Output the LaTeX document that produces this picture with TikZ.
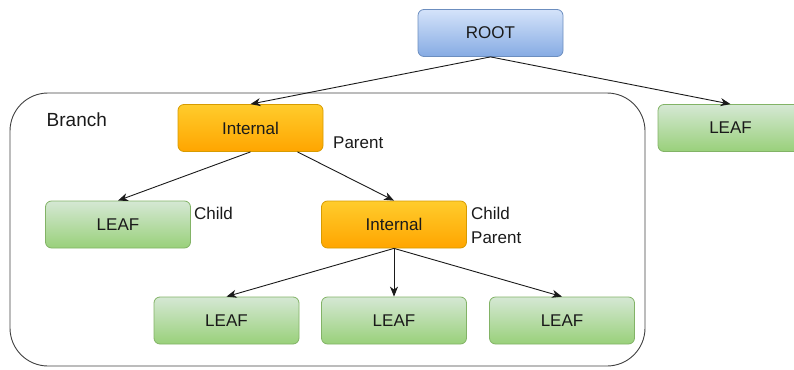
\documentclass[tikz,border=0pt]{standalone}
\usepackage{fontspec}
\setmainfont{Liberation Sans}
\usetikzlibrary{arrows.meta}
\definecolor{roottop}{HTML}{D4E3FA}
\definecolor{rootbot}{HTML}{86ABE3}
\definecolor{rootborder}{HTML}{6C8EBF}
\definecolor{inttop}{HTML}{FFCC2C}
\definecolor{intbot}{HTML}{FFA500}
\definecolor{intborder}{HTML}{D79B00}
\definecolor{leaftop}{HTML}{D5E8D4}
\definecolor{leafbot}{HTML}{99D07A}
\definecolor{leafborder}{HTML}{82B366}
\definecolor{txt}{HTML}{1A1A1A}
\begin{document}
\begin{tikzpicture}[x=1pt,y=-1pt,
  font=\fontsize{17}{20}\selectfont,
  box/.style={rounded corners=6pt, minimum width=145pt, minimum height=47pt,
    inner sep=0pt, line width=0.8pt, text=txt},
  rootbox/.style={box, draw=rootborder, top color=roottop, bottom color=rootbot},
  intbox/.style={box, draw=intborder, top color=inttop, bottom color=intbot},
  leafbox/.style={box, draw=leafborder, top color=leaftop, bottom color=leafbot},
  lbl/.style={anchor=base west, inner sep=0pt, text=txt},
  arr/.style={-{Stealth[length=10pt,width=8pt,inset=3pt]}, line width=0.9pt, draw=txt},
  container/.style={rounded corners=38pt, line width=0.9pt, draw=black!75}
]
\useasboundingbox (0,0) rectangle (794,369);
\draw[container] (10,93) rectangle (645,366);

\node[rootbox] (root) at (490.5,33) {ROOT};
\node[intbox] (i1) at (250.5,128) {Internal};
\node[leafbox] (l1) at (118,224.5) {LEAF};
\node[intbox] (i2) at (394,224.5) {Internal};
\node[leafbox] (l2) at (226.5,320.5) {LEAF};
\node[leafbox] (l3) at (394,320.5) {LEAF};
\node[leafbox] (l4) at (562,320.5) {LEAF};
\node[leafbox] (l5) at (730.5,128) {LEAF};

\node[lbl, font=\fontsize{19}{22}\selectfont] (branch) at (46.5,126.5) {Branch};
\node[lbl] (par1) at (333,148) {Parent};
\node[lbl] (ch1) at (194,219) {Child};
\node[lbl] (ch2) at (471,219) {Child};
\node[lbl] (par2) at (471,243) {Parent};

\draw[arr] (root.south) -- (i1.north);
\draw[arr] (root.south) -- (l5.north);
\draw[arr] (i1.south) -- (l1.north);
\draw[arr] ([xshift=47pt]i1.south) -- (i2.north);
\draw[arr] (i2.south) -- (l2.north);
\draw[arr] (i2.south) -- (l3.north);
\draw[arr] (i2.south) -- (l4.north);
\end{tikzpicture}
\end{document}
